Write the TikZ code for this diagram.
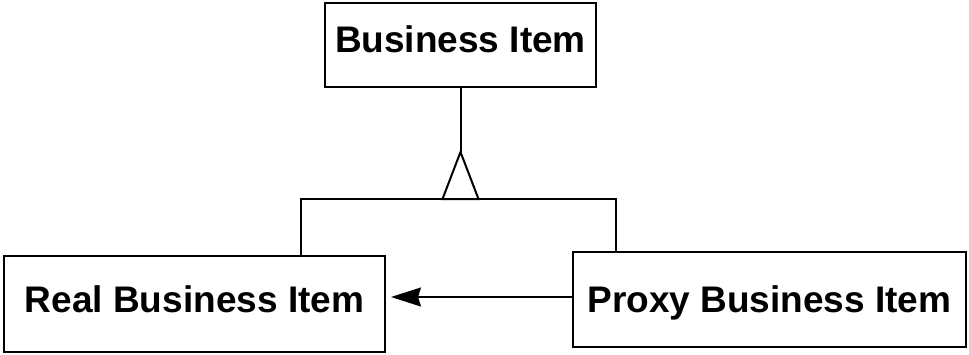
\documentclass[tikz,border=0pt]{standalone}
\usepackage{fontspec}
\setmainfont{Liberation Sans}
\usetikzlibrary{arrows.meta}
\begin{document}
\begin{tikzpicture}[x=1pt,y=-1pt,
  classbox/.style={draw,line width=2pt,inner sep=0pt,text height=26pt,
    font=\fontsize{37}{41}\bfseries\selectfont},
  link/.style={line width=2pt}]
  \useasboundingbox (0,0) rectangle (969,354);
  % classes
  \node[classbox,minimum width=271pt,minimum height=84pt,text depth=12pt]
    (item) at (460.5,45) {Business Item};
  \node[classbox,minimum width=381pt,minimum height=96pt,text depth=10pt]
    (real) at (194.5,304) {Real Business Item};
  \node[classbox,minimum width=393pt,minimum height=95pt,text depth=1pt]
    (proxy) at (769.5,299.5) {Proxy Business Item};
  % generalization
  \coordinate (tip) at (460.5,152);
  \coordinate (bleft) at (442.5,199);
  \coordinate (bright) at (478.5,199);
  \coordinate (hleft) at (301,199);
  \coordinate (hright) at (616,199);
  \draw[link] (item.south) -- (tip);
  \draw[link,line join=miter] (tip) -- (bleft) -- (bright) -- cycle;
  \draw[link] (real.north -| hleft) -- (hleft) -- (hright) -- (proxy.north -| hright);
  % delegation
  \coordinate (from) at (proxy.west |- 0,297);
  \coordinate (to) at (real.east |- 0,297);
  \draw[link,-{Stealth[length=30pt,width=19pt,inset=3pt]},shorten >=5pt] (from) -- (to);
\end{tikzpicture}
\end{document}
